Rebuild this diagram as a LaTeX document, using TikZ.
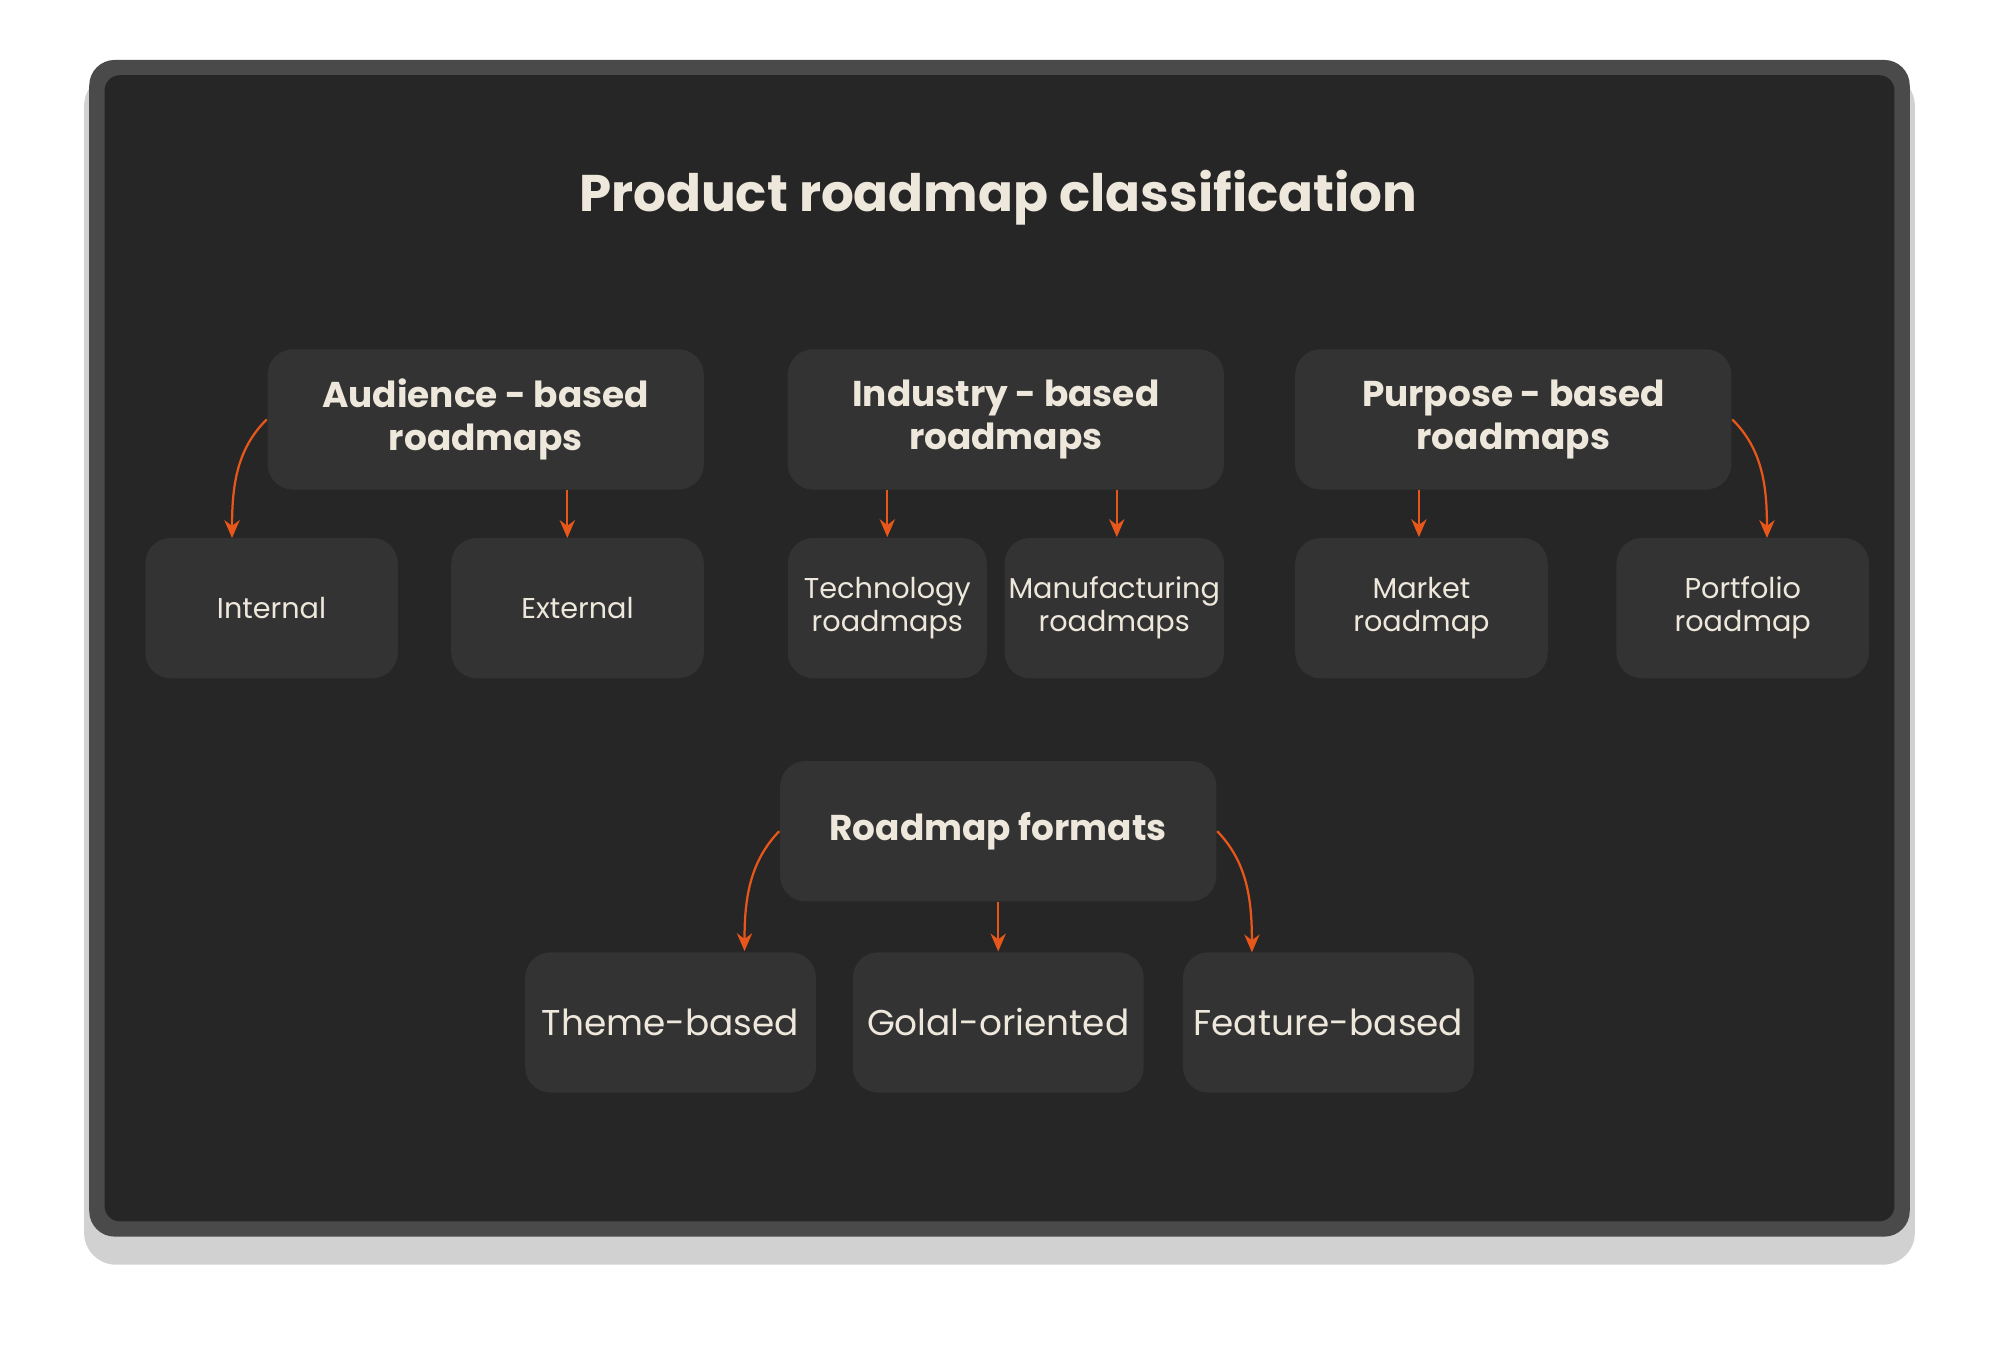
\documentclass[tikz,border=0pt]{standalone}
\usepackage{fontspec}
\setmainfont{Poppins}
\usetikzlibrary{arrows.meta}
\definecolor{panel}{HTML}{262626}
\definecolor{frame}{HTML}{4A4A4A}
\definecolor{boxfill}{HTML}{333333}
\definecolor{ink}{HTML}{EEE8DC}
\definecolor{accent}{HTML}{E8571A}
\tikzset{
  card/.style={fill=boxfill, rounded corners=0.2cm, text=ink, align=center, inner sep=0pt},
  head/.style={card, minimum width=3.42cm, minimum height=1.1cm, font=\fontsize{8}{9.6}\selectfont\bfseries},
  leaf/.style={card, minimum width=1.98cm, minimum height=1.1cm, font=\fontsize{6.4}{7.4}\selectfont},
  fmt/.style={card, minimum width=2.28cm, minimum height=1.1cm, font=\fontsize{8}{9.6}\selectfont},
  arr/.style={draw=accent, line width=0.5pt, -{Stealth[length=1.4mm,width=1.2mm]}}
}
\begin{document}
\begin{tikzpicture}[x=0.01cm, y=-0.01cm]
        \useasboundingbox (0,0) rectangle (1568,1063);
        % Frame
        \fill[black, opacity=0.18, rounded corners=0.25cm] (66,58) rectangle (1502,992);
        \fill[frame, rounded corners=0.2cm] (70,47) rectangle (1498,970);
        \fill[panel, rounded corners=0.12cm] (82,59) rectangle (1486,958);

        % Title
        \node[text=ink, font=\fontsize{11.5}{13}\selectfont\bfseries] (title) at (783,155) {Product roadmap classification};

        % Nodes (first row)
        \node[head] (aud) at (381,329) {Audience - based\\roadmaps};
        \node[head] (ind) at (789,329) {Industry - based\\roadmaps};
        \node[head] (pur) at (1187,329) {Purpose - based\\roadmaps};

        % Nodes (second row)
        \node[leaf] (int) at (213,477) {Internal};
        \node[leaf] (ext) at (453,477) {External};
        \node[leaf, minimum width=1.56cm] (tech) at (696,477) {Technology\\roadmaps};
        \node[leaf, minimum width=1.72cm] (manu) at (874,477) {Manufacturing\\roadmaps};
        \node[leaf] (mkt) at (1115,477) {Market\\roadmap};
        \node[leaf] (port) at (1367,477) {Portfolio\\roadmap};

        % Nodes (formats)
        \node[head] (form) at (783,652) {Roadmap formats};
        \node[fmt] (theme) at (526,802) {Theme-based};
        \node[fmt] (goal) at (783,802) {Golal-oriented};
        \node[fmt] (feat) at (1042,802) {Feature-based};

        % Connectors
        \coordinate (a1) at (445,384);  \coordinate (a2) at (445,422);
        \coordinate (i1) at (696,384);  \coordinate (i2) at (876,384);
        \coordinate (p1) at (1113,384);
        \draw[arr] (aud.west) .. controls (186,352) and (182,380) .. (182,422);
        \draw[arr] (a1) -- (a2);
        \draw[arr] (i1) -- (tech.north);
        \draw[arr] (i2) -- (i2 |- manu.north);
        \draw[arr] (p1) -- (p1 |- mkt.north);
        \draw[arr] (pur.east) .. controls (1382,352) and (1386,380) .. (1386,422);

        \draw[arr] (form.west) .. controls (588,676) and (584,705) .. (584,746);
        \draw[arr] (form.south) -- (goal.north);
        \draw[arr] (form.east) .. controls (978,676) and (982,705) .. (982,747);
\end{tikzpicture}
\end{document}
